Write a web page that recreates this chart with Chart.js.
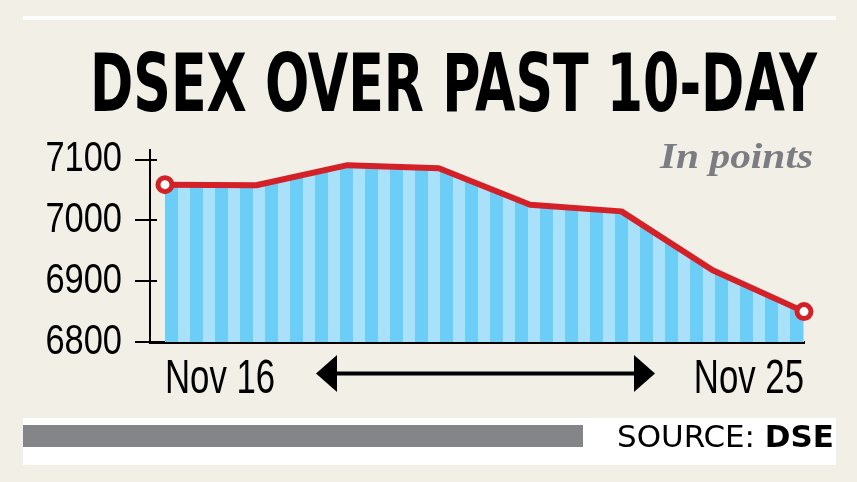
<!DOCTYPE html>
<html>
<head>
<meta charset="utf-8">
<script src="https://cdn.jsdelivr.net/npm/chart.js@4.4.0/dist/chart.umd.min.js"></script>
<style>
  html, body { margin:0; padding:0; background:#f2efe7; width:857px; height:482px; overflow:hidden; }
  #wrap { position:relative; width:857px; height:482px; }
  #chart { position:absolute; left:0; top:0; }
  .abs { position:absolute; white-space:nowrap; line-height:1; transform-origin:0 0; }
  #topline { position:absolute; left:23px; top:16px; width:813px; height:4px; background:#ffffff; }
  #title { left:90px; top:43px; font-family:'Liberation Sans Narrow','DejaVu Sans Condensed','Liberation Sans',sans-serif; font-weight:bold; font-size:81px; color:#000; }
  #unit { left:660px; top:139px; font-family:'Liberation Serif','DejaVu Serif',serif; font-style:italic; font-weight:bold; font-size:35px; color:#7c7d83; }
  #srcbox { position:absolute; left:23px; top:418px; width:813px; height:47px; background:#ffffff; }
  #srcbar { position:absolute; left:23px; top:425px; width:560px; height:22px; background:#848589; }
  #source { left:617px; top:421px; font-family:'Liberation Sans Narrow','DejaVu Sans Condensed','Liberation Sans',sans-serif; font-size:31px; color:#000; }
  #arrow { position:absolute; left:0; top:0; }
</style>
</head>
<body>
<div id="wrap">
  <div id="topline"></div>
  <canvas id="chart" width="857" height="482"></canvas>
  <div id="title" class="abs">DSEX OVER PAST 10-DAY</div>
  <div id="unit" class="abs">In points</div>
  <svg id="arrow" width="857" height="482">
    <rect x="334" y="371.5" width="302" height="4" fill="#000"/>
    <polygon points="316,373.5 337,355 337,392" fill="#000"/>
    <polygon points="655,373.5 634,355 634,392" fill="#000"/>
  </svg>
  <div id="srcbox"></div>
  <div id="srcbar"></div>
  <div id="source" class="abs">SOURCE: <b>DSE</b></div>
</div>
<script>
// ---- data ----
const categories = ['Nov 16', 'Nov 17', 'Nov 18', 'Nov 21', 'Nov 22', 'Nov 23', 'Nov 24', 'Nov 25'];
const dsexValues = [7059, 7058, 7091, 7086, 7026, 7015, 6918, 6850];
const yTickValues = [6800, 6900, 7000, 7100];
const shownLabels = ['Nov 16', 'Nov 25'];

// fit overlay text widths
function fitWidth(id, target) {
  const el = document.getElementById(id);
  const w = el.getBoundingClientRect().width;
  el.style.transform = 'scaleX(' + (target / w) + ')';
}
fitWidth('title', 727);
fitWidth('unit', 153);
fitWidth('source', 217);

const RED = '#d42027';
const DARK = '#6ccdf6';
const LIGHT = '#a9e0fa';
const FONT = "'Liberation Sans','Arial',sans-serif";
const Y_FONT_SIZE = 42;
const X_FONT_SIZE = 49;
// horizontal condensing of the axis label glyphs, keyed by font size
const CONDENSE = { 42: 0.82, 49: 0.71 };

const condensedText = {
  id: 'condensedText',
  beforeInit(chart) {
    const ctx = chart.ctx;
    const orig = ctx.fillText.bind(ctx);
    ctx.fillText = function (text, x, y, maxWidth) {
      const m = /(\d+(?:\.\d+)?)px/.exec(this.font);
      const sx = m ? (CONDENSE[Math.round(parseFloat(m[1]))] || 1) : 1;
      this.save();
      this.translate(x, y);
      this.scale(sx, 1);
      if (maxWidth === undefined) orig(text, 0, 0); else orig(text, 0, 0, maxWidth / sx);
      this.restore();
    };
  }
};

let stripe = null;
function stripePattern(chart) {
  const area = chart.chartArea;
  if (!area || !chart.scales.x) return DARK;
  if (!stripe) {
    const c = document.createElement('canvas');
    c.width = 25; c.height = 4;
    const g = c.getContext('2d');
    g.fillStyle = DARK; g.fillRect(0, 0, 13, 4);
    g.fillStyle = LIGHT; g.fillRect(13, 0, 12, 4);
    stripe = chart.ctx.createPattern(c, 'repeat');
  }
  const x0 = chart.scales.x.getPixelForValue(0);
  stripe.setTransform(new DOMMatrix([1, 0, 0, 1, x0, 0]));
  return stripe;
}

const innerTicks = {
  id: 'innerTicks',
  afterDatasetsDraw(chart) {
    const ys = chart.scales.y, ctx = chart.ctx;
    ctx.save();
    ctx.strokeStyle = '#000';
    ctx.lineWidth = 2;
    ys.ticks.forEach(t => {
      const py = Math.round(ys.getPixelForValue(t.value));
      ctx.beginPath();
      ctx.moveTo(ys.right, py);
      ctx.lineTo(ys.right + 7, py);
      ctx.stroke();
    });
    ctx.restore();
  }
};

const points = dsexValues.map((v, i) => ({ x: i, y: v }));
const lastIdx = dsexValues.length - 1;

new Chart(document.getElementById('chart'), {
  type: 'line',
  data: {
    datasets: [{
      data: points,
      borderColor: RED,
      borderWidth: 6,
      borderJoinStyle: 'round',
      tension: 0,
      fill: 'start',
      backgroundColor: (ctx) => stripePattern(ctx.chart),
      pointRadius: (ctx) => (ctx.dataIndex === 0 || ctx.dataIndex === lastIdx) ? 7 : 0,
      pointHoverRadius: 0,
      pointBackgroundColor: '#ffffff',
      pointBorderColor: RED,
      pointBorderWidth: 5,
      clip: false
    }]
  },
  options: {
    responsive: false,
    animation: false,
    devicePixelRatio: 1,
    layout: { padding: { left: 0, right: 53, top: 150, bottom: 0 } },
    plugins: { legend: { display: false }, tooltip: { enabled: false }, title: { display: false } },
    scales: {
      x: {
        type: 'linear',
        min: -0.164,
        max: lastIdx,
        afterBuildTicks: (scale) => { scale.ticks = shownLabels.map(l => ({ value: categories.indexOf(l) })); },
        afterFit: (scale) => { scale.height = 140; },
        grid: { display: false, drawTicks: false },
        border: { display: true, color: '#000', width: 3 },
        ticks: {
          align: 'inner',
          maxRotation: 0,
          autoSkip: false,
          padding: 8,
          color: '#000',
          font: { family: FONT, size: X_FONT_SIZE },
          callback: (v) => categories[v]
        }
      },
      y: {
        min: 6800,
        max: 7116,
        afterBuildTicks: (scale) => { scale.ticks = yTickValues.map(v => ({ value: v })); },
        afterFit: (scale) => { scale.width = 150; },
        grid: { display: true, drawOnChartArea: false, drawTicks: true, tickLength: 15, color: '#000', lineWidth: 2 },
        border: { display: true, color: '#000', width: 2 },
        ticks: {
          padding: 13,
          color: '#000',
          font: { family: FONT, size: Y_FONT_SIZE },
          callback: (v) => String(v)
        }
      }
    }
  },
  plugins: [condensedText, innerTicks]
});
</script>
</body>
</html>
